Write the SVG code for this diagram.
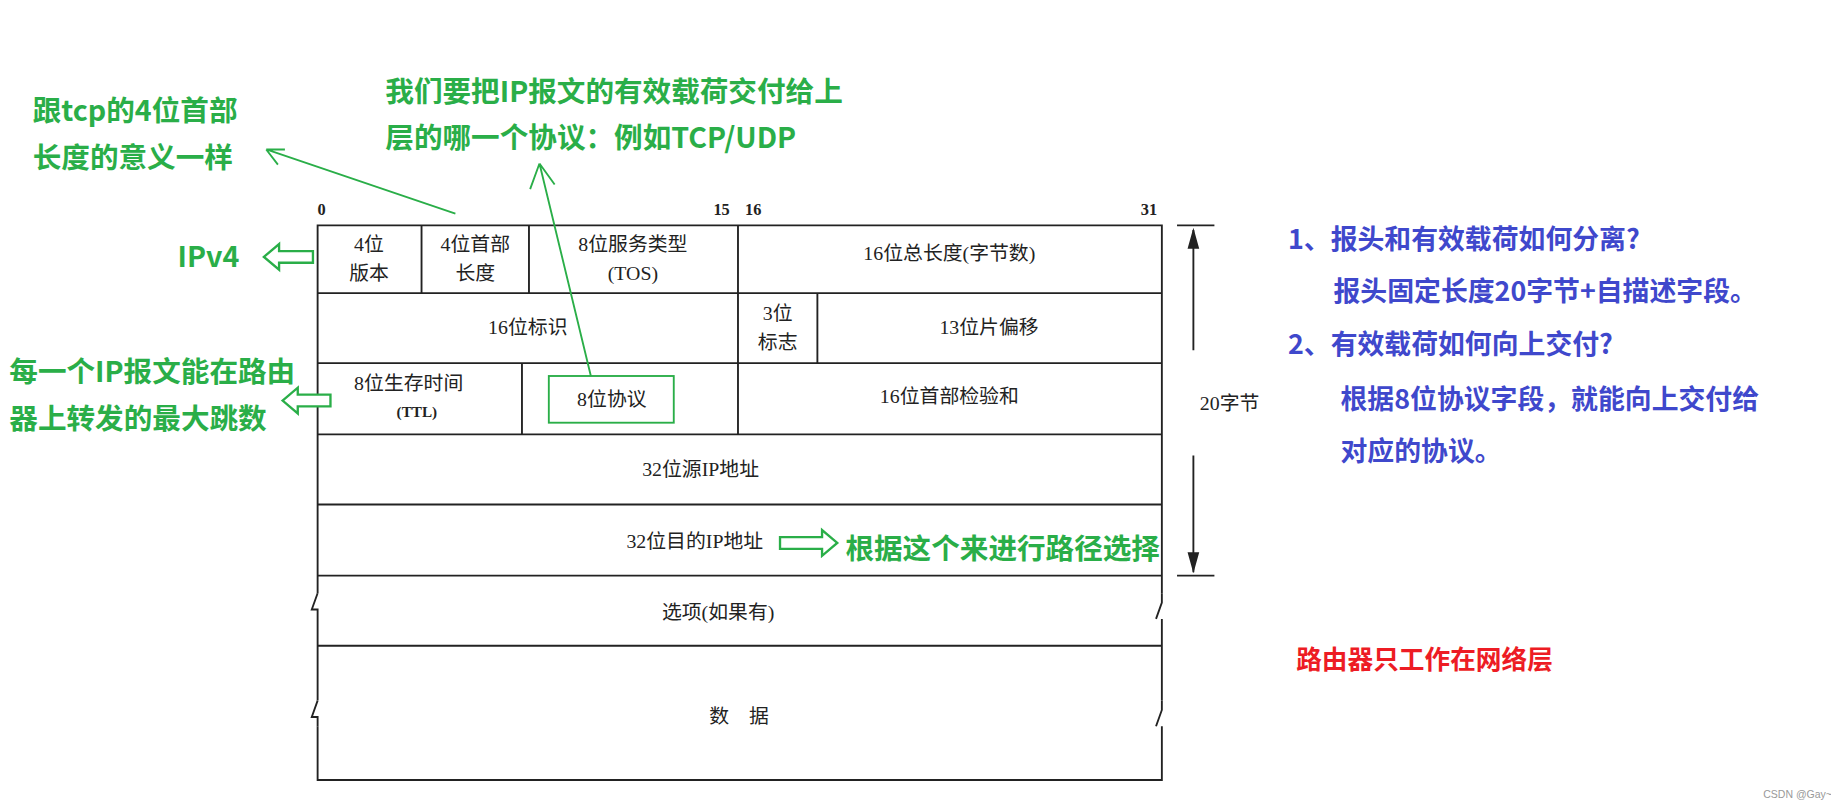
<svg xmlns="http://www.w3.org/2000/svg" width="1831" height="811" viewBox="0 0 1831 811">
<style>
.t{font-family:"Liberation Serif","Noto Sans CJK SC",serif;font-size:17px;fill:#222;text-anchor:middle}
.n{font-family:"Liberation Serif",serif;font-size:14px;font-weight:bold;fill:#222}
.g{font-family:"Noto Sans CJK SC",sans-serif;font-size:24.5px;font-weight:bold;fill:#2aae48}
.b{font-family:"Noto Sans CJK SC",sans-serif;font-size:23px;font-weight:bold;fill:#3f48cc}
.r{font-family:"Noto Sans CJK SC",sans-serif;font-size:22px;font-weight:bold;fill:#ed1c24}
.ln{stroke:#222;stroke-width:1.6;fill:none}
.ga{stroke:#2aae48;stroke-width:1.6;fill:none}
.ho{stroke:#2aae48;stroke-width:2;fill:#fff}
</style>
<rect width="1831" height="811" fill="#fff"/>
<g transform="scale(1.1677)">
<g id="table">
<path class="ln" d="M272 193H995V668H272Z"/>
<path class="ln" d="M272 251H995M272 311H995M272 372H995M272 432H995M272 493H995M272 553H995"/>
<path class="ln" d="M361 193V251M453 193V251M632 193V372M700 251V311M447 311V372"/>
<path d="M268 508h8v22h-8zM268 600h8v22h-8zM991 508h8v22h-8zM991 600h8v22h-8z" fill="#fff"/>
<path class="ln" d="M272 508l-5 14h5v8M272 600l-5 14h5v8M995 508v8l-5 14M995 600v8l-5 14"/>
<text class="n" x="272" y="184">0</text>
<text class="n" x="611" y="184">15</text>
<text class="n" x="638" y="184">16</text>
<text class="n" x="977" y="184">31</text>
<text class="t" x="316" y="215">4位</text><text class="t" x="316" y="240">版本</text>
<text class="t" x="407" y="215">4位首部</text><text class="t" x="407" y="240">长度</text>
<text class="t" x="542" y="215">8位服务类型</text><text class="t" x="542" y="240">(TOS)</text>
<text class="t" x="813" y="223">16位总长度(字节数)</text>
<text class="t" x="452" y="286">16位标识</text>
<text class="t" x="666" y="274">3位</text><text class="t" x="666" y="299">标志</text>
<text class="t" x="847" y="286">13位片偏移</text>
<text class="t" x="350" y="334">8位生存时间</text><text class="t" x="357" y="357" style="font-size:13px;font-weight:bold">(TTL)</text>
<text class="t" x="524" y="348">8位协议</text>
<text class="t" x="813" y="345">16位首部检验和</text>
<text class="t" x="600" y="408">32位源IP地址</text>
<text class="t" x="595" y="469">32位目的IP地址</text>
<text class="t" x="615" y="530">选项(如果有)</text>
<text class="t" x="633" y="619">数　据</text>
<path class="ln" d="M1022 197V300M1022 390V490M1008 193H1040M1008 493H1040"/>
<path d="M1022 195l-5 18h10zM1022 491l-5-18h10z" fill="#222"/>
<text class="t" x="1053" y="351">20字节</text>
</g>
<g id="connectors">
<rect x="470" y="322" width="107" height="40" class="ga" stroke-width="2"/>
<path class="ga" d="M390 183L228 128M228 128l16 0M228 128l10 13"/>
<path class="ga" d="M506 322L462 140M462 140l-8 22M462 140l13 18"/>
<path class="ho" d="M226 220l13-11v6h29v10h-29v6z"/>
<path class="ho" d="M242 343l13-11v6h28v10h-28v6z"/>
<path class="ho" d="M717 465l-13-11v6h-36v10h36v6z"/>
</g>
<g id="labels">
<text class="g" x="28" y="104">跟tcp的4位首部</text>
<text class="g" x="28" y="144">长度的意义一样</text>
<text class="g" x="330" y="87">我们要把IP报文的有效载荷交付给上</text>
<text class="g" x="330" y="127">层的哪一个协议：例如TCP/UDP</text>
<text class="g" x="152" y="229">IPv4</text>
<text class="g" x="8" y="327">每一个IP报文能在路由</text>
<text class="g" x="8" y="367">器上转发的最大跳数</text>
<text class="g" x="724" y="479">根据这个来进行路径选择</text>
<text class="b" x="1103" y="213">1、报头和有效载荷如何分离?</text>
<text class="b" x="1142" y="258">报头固定长度20字节+自描述字段。</text>
<text class="b" x="1103" y="303">2、有效载荷如何向上交付?</text>
<text class="b" x="1148" y="350">根据8位协议字段，就能向上交付给</text>
<text class="b" x="1148" y="395">对应的协议。</text>
<text class="r" x="1110" y="573">路由器只工作在网络层</text>
<text x="1510" y="683" style="font-family:'Liberation Sans',sans-serif;font-size:9px;fill:#999">CSDN @Gay~</text>
</g>
</g>
</svg>
